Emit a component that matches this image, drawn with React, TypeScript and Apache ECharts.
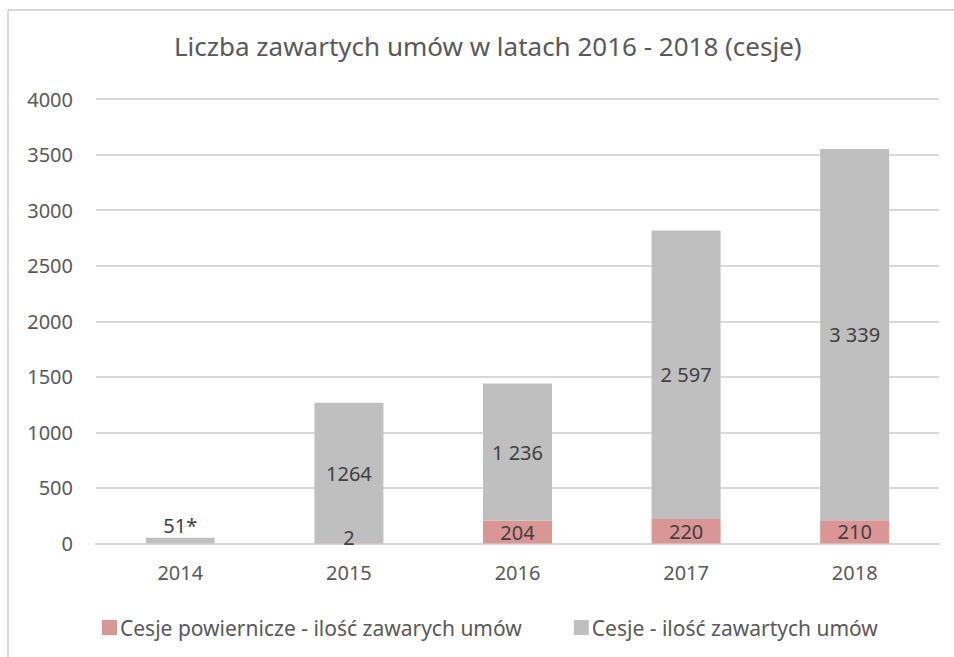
import React, { useEffect, useRef } from "react";
import * as echarts from "echarts";

const categories = ["2014", "2015", "2016", "2017", "2018"];
const trustValues: (number | null)[] = [null, 2, 204, 220, 210];
const cessionValues = [51, 1264, 1236, 2597, 3339];
const cessionLabels = ["51*", "1264", "1 236", "2 597", "3 339"];
const trustLabels = ["", "2", "204", "220", "210"];
const yTicks = { min: 0, max: 4000, interval: 500 };
const titleText = "Liczba zawartych umów w latach 2016 - 2018 (cesje)";
const seriesNames = ["Cesje powiernicze - ilość zawarych umów", "Cesje - ilość zawartych umów"];

const FONT = "'Noto Sans', sans-serif";

export default function App() {
  const ref = useRef<HTMLDivElement>(null);
  useEffect(() => {
    if (!ref.current) return;
    const chart = echarts.init(ref.current, undefined, { renderer: "svg" });
    chart.setOption({
      animation: false,
      backgroundColor: "#ffffff",
      textStyle: { fontFamily: FONT },
      title: {
        text: titleText,
        left: 174,
        top: 33,
        padding: 0,
        textStyle: { fontFamily: FONT, fontSize: 26, fontWeight: "normal", color: "#595959" },
      },
      graphic: [
        { type: "line", shape: { x1: 8, y1: 10, x2: 954, y2: 10 }, style: { stroke: "#D9D9D9", lineWidth: 2 } },
        { type: "line", shape: { x1: 8, y1: 10, x2: 8, y2: 657 }, style: { stroke: "#D9D9D9", lineWidth: 2 } },
      ],
      legend: {
        top: 612,
        left: 97,
        itemWidth: 15,
        itemHeight: 15,
        itemGap: 52,
        icon: "rect",
        textStyle: { fontFamily: FONT, fontSize: 21, color: "#595959", padding: [0, 0, 0, -2] },
        data: seriesNames,
      },
      grid: { left: 96, right: 15, top: 99, bottom: 113.5, containLabel: false },
      xAxis: {
        type: "category",
        data: categories,
        axisLine: { lineStyle: { color: "#D9D9D9", width: 2 } },
        axisTick: { show: false },
        axisLabel: { fontFamily: FONT, fontSize: 20, color: "#595959", margin: 19 },
      },
      yAxis: {
        type: "value",
        min: yTicks.min,
        max: yTicks.max,
        interval: yTicks.interval,
        axisLine: { show: false },
        axisTick: { show: false },
        splitLine: { lineStyle: { color: "#D9D9D9", width: 2 } },
        axisLabel: {
          fontFamily: FONT,
          fontSize: 20,
          color: "#595959",
          margin: 23,
          formatter: (v: number) => String(v),
        },
      },
      series: [
        {
          name: seriesNames[0],
          type: "bar",
          stack: "total",
          barWidth: 69,
          itemStyle: { color: "#DA9694" },
          data: trustValues.map((v, i) =>
            i === 1 ? { value: v, label: { offset: [0, -6] } } : v
          ),
          label: {
            show: true,
            position: "inside",
            fontFamily: FONT,
            fontSize: 20,
            color: "#404040",
            formatter: (p: any) => trustLabels[p.dataIndex],
          },
        },
        {
          name: seriesNames[1],
          type: "bar",
          stack: "total",
          barWidth: 69,
          itemStyle: { color: "#BFBFBF" },
          data: cessionValues.map((v, i) =>
            i === 0
              ? { value: v, label: { position: "top", distance: 2 } }
              : v
          ),
          label: {
            show: true,
            position: "inside",
            fontFamily: FONT,
            fontSize: 20,
            color: "#404040",
            formatter: (p: any) => cessionLabels[p.dataIndex],
          },
        },
      ],
    });
    return () => chart.dispose();
  }, []);
  return (
    <div
      ref={ref}
      style={{ position: "absolute", left: 0, top: 0, width: 954, height: 657 }}
    />
  );
}
